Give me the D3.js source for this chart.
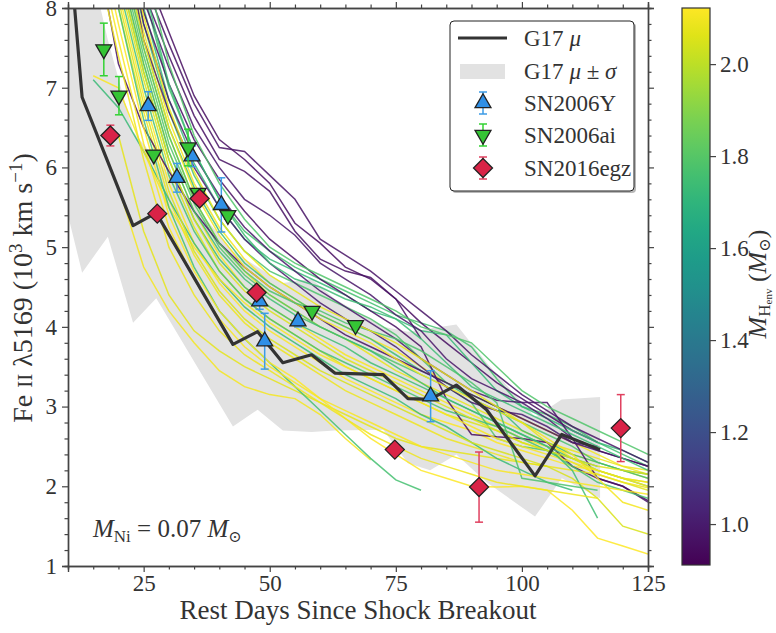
<!DOCTYPE html>
<html>
<head>
<meta charset="utf-8">
<script src="https://cdn.jsdelivr.net/npm/d3@7"></script>
<style>
  body { margin: 0; background: #fff; }
  svg text { font-family: "Liberation Serif", "DejaVu Serif", serif; fill: #333; }
</style>
</head>
<body>
<svg id="chart" width="776" height="633"></svg>
<script>
const _ = null;

// model grid (rest days)
const modelDays = [10, 15, 20, 25, 30, 35, 40, 45, 50, 55, 60, 65, 70, 75, 80, 85, 90, 95, 100, 105, 110, 115, 120, 125];

// H envelope mass of each model (Msun)
const modelMass = [2.10, 1.76, 0.95, 2.08, 1.72, 0.97, 2.11, 1.78, 0.96, 2.06, 1.74, 0.98,
                   2.12, 1.80, 0.95, 2.09, 1.75, 0.99, 2.10, 1.77, 0.96, 2.07, 1.73, 1.00,
                   2.11, 1.76, 2.12, 1.79, 2.05, 1.74, 2.10, 1.78, 2.08, 1.75, 2.11, 2.09, 2.06];

// Fe II velocities (10^3 km/s) on modelDays
const modelVel = [
  [_,_,9.0,7.7,6.6,5.8,5.25,4.85,4.55,4.35,4.15,4.0,3.85,3.7,3.5,3.3,3.15,3.0,2.85,2.7,2.55,2.4,2.25,2.15],
  [_,_,9.5,8.2,7.0,6.2,5.6,5.2,4.95,4.75,4.6,4.45,4.3,4.15,4.05,3.95,3.75,3.35,3.0,2.9,2.75,2.55,2.4,2.25],
  [_,_,10.5,8.5,7.7,6.9,6.35,6.1,5.8,5.3,5.05,4.75,4.6,4.35,4.05,3.8,3.55,3.3,3.1,2.9,2.7,2.55,_,_],
  [_,_,8.8,7.5,6.4,5.6,5.05,4.7,4.4,4.2,4.0,3.85,3.65,3.45,3.3,3.15,3.0,2.85,2.7,2.55,2.45,2.35,2.25,2.2],
  [_,_,9.3,8.0,6.85,6.05,5.5,5.1,4.85,4.7,4.55,4.4,4.2,4.1,3.95,3.9,3.55,3.2,3.0,2.85,2.7,2.55,2.45,2.3],
  [_,_,10.3,8.35,7.55,6.8,6.25,6.2,5.9,5.6,5.1,4.9,4.7,4.45,4.2,3.95,3.65,3.4,3.15,2.95,2.75,2.6,2.45,2.3],
  [_,_,8.6,7.3,6.2,5.45,4.9,4.5,4.25,4.05,3.85,3.65,3.5,3.35,3.2,3.05,2.9,2.75,2.6,2.5,2.4,2.3,2.2,2.1],
  [_,_,9.1,7.8,6.7,5.9,5.35,4.95,4.7,4.55,4.4,4.25,4.1,3.9,3.6,3.3,3.1,2.95,2.8,2.65,2.5,2.3,2.2,2.15],
  [_,_,10.1,8.2,7.4,6.65,6.1,5.95,5.7,5.2,4.85,4.7,4.62,4.35,3.85,_,_,_,_,_,_,_,_,_],
  [_,_,8.4,7.1,6.0,5.25,4.7,4.35,4.1,3.9,3.7,3.5,3.35,3.2,3.05,2.9,2.8,2.7,2.55,2.45,2.3,2.15,2.05,1.95],
  [_,_,8.9,7.6,6.5,5.75,5.2,4.8,4.55,4.35,4.15,4.0,3.85,3.65,3.45,3.3,3.15,3.0,2.7,2.55,2.4,2.3,2.2,2.1],
  [_,_,9.9,8.1,7.25,6.5,6.0,5.6,5.4,5.15,4.8,4.6,4.4,4.15,3.95,3.6,3.35,3.2,3.05,3.05,2.6,2.1,2.0,1.8],
  [_,_,8.2,6.9,5.8,5.05,4.55,4.2,3.95,3.75,3.55,3.35,3.2,3.05,2.9,2.8,2.7,2.55,2.45,2.35,2.25,2.2,2.1,2.05],
  [_,_,8.7,7.4,6.3,5.55,5.0,4.65,4.4,4.2,4.0,3.85,3.7,3.55,3.4,3.25,3.05,2.6,2.5,2.45,2.35,2.2,2.1,2.0],
  [_,_,9.7,7.95,7.05,6.35,5.85,5.45,5.1,4.85,4.6,4.4,4.2,4.0,3.75,3.1,2.65,2.62,2.6,2.55,2.25,2.1,2.0,1.82],
  [_,_,8.0,6.7,5.6,4.9,4.4,4.05,3.8,3.6,3.4,3.2,3.05,2.9,2.75,2.6,2.5,2.4,2.3,2.25,2.2,2.15,2.05,1.98],
  [_,_,8.5,7.2,6.1,5.35,4.85,4.5,4.25,4.05,3.9,3.75,3.55,3.4,3.25,3.1,2.95,2.8,2.65,2.5,2.35,2.25,_,_],
  [_,_,9.5,7.8,6.85,6.15,5.65,5.25,4.95,4.7,4.45,4.25,4.05,3.85,3.6,3.4,3.2,3.08,3.05,2.85,2.6,2.45,2.35,2.25],
  [_,_,5.75,4.75,4.2,3.8,3.45,3.25,3.15,3.1,2.9,2.6,2.33,_,_,_,_,_,_,_,_,_,_,_],
  [_,_,8.3,7.0,5.9,5.2,4.7,4.35,4.1,3.9,3.7,3.55,3.4,3.25,3.1,2.95,2.85,2.75,2.6,2.45,2.25,2.05,1.95,1.85],
  [_,9.0,7.3,6.5,5.95,5.45,5.05,4.75,4.5,4.3,4.1,3.9,3.75,3.6,3.45,3.3,3.15,3.0,2.85,2.7,2.55,2.45,2.35,2.25],
  [_,_,6.4,5.2,4.4,3.95,3.7,3.5,3.35,3.2,3.05,2.9,2.75,2.6,2.5,2.45,2.4,2.35,2.3,2.25,_,_,_,_],
  [_,7.1,6.75,6.2,5.6,5.05,4.6,4.25,4.0,3.8,3.6,3.4,3.25,3.1,2.9,2.75,2.55,2.35,2.2,2.05,1.95,_,_,_],
  [_,_,9.3,7.6,6.7,6.0,5.5,5.1,4.8,4.55,4.3,4.1,3.95,3.75,3.5,3.25,3.05,2.95,2.9,2.75,2.55,2.5,_,_],
  [_,7.15,7.0,6.2,5.5,5.0,4.6,4.3,4.05,3.85,3.65,3.5,3.35,3.2,3.05,2.9,2.75,2.6,2.5,2.4,2.3,2.2,2.1,2.0],
  [_,_,8.0,6.6,5.5,4.75,4.2,3.85,3.55,3.25,2.95,2.65,2.35,2.08,1.95,_,_,_,_,_,_,_,_,_],
  [_,9.2,7.8,6.5,5.4,4.7,4.2,3.85,3.55,3.35,3.1,2.85,2.6,2.4,2.2,2.1,2.0,1.99,2.0,1.95,1.7,1.35,1.25,1.15],
  [_,_,_,8.6,7.3,6.4,5.8,5.35,5.0,4.8,4.65,4.5,4.35,4.2,4.0,3.9,3.8,3.5,3.2,3.0,2.85,2.7,2.55,2.4],
  [_,_,8.1,6.8,5.7,4.95,4.45,4.1,3.85,3.65,3.45,3.3,3.15,3.0,2.85,2.7,2.55,2.45,2.35,2.25,2.1,1.85,1.5,1.4],
  [_,_,_,8.3,7.05,6.2,5.6,5.15,4.8,4.6,4.5,4.35,4.25,4.1,3.85,3.55,3.25,3.1,2.95,2.8,2.65,2.5,2.35,2.2],
  [_,_,8.9,7.6,6.5,5.7,5.15,4.75,4.5,4.3,4.1,3.95,3.8,3.6,3.4,3.25,3.1,2.95,2.8,2.6,2.4,2.1,1.8,1.7],
  [_,_,8.8,7.5,6.4,5.6,5.05,4.7,4.45,4.3,4.2,4.05,3.95,3.85,3.7,3.5,3.3,3.05,2.1,2.05,2.0,1.95,_,_],
  [_,_,9.2,7.9,6.75,5.95,5.35,4.95,4.65,4.45,4.25,4.1,3.95,3.8,3.6,3.4,3.2,3.0,2.8,2.55,2.35,2.2,2.1,2.05],
  [_,_,8.6,7.3,6.2,5.45,4.95,4.6,4.35,4.15,4.0,3.85,3.7,3.5,3.3,3.1,2.95,2.8,2.65,2.5,2.2,1.6,_,_],
  [_,9.0,7.6,6.3,5.25,4.6,4.1,3.75,3.5,3.3,3.1,2.95,2.8,2.65,2.5,2.4,2.3,2.2,2.15,2.1,2.05,2.0,1.95,1.9],
  [_,8.8,7.4,6.1,5.0,4.4,3.95,3.65,3.45,3.25,3.05,2.85,2.65,2.5,2.35,2.25,2.15,2.05,2.0,1.95,1.9,1.85,_,_],
  [_,_,8.5,7.2,6.1,5.35,4.8,4.45,4.2,4.0,3.8,3.6,3.45,3.3,3.15,3.0,2.85,2.7,2.55,2.45,2.35,2.25,2.2,2.15]
];

// G17 mean and +/- sigma envelope
const g17Days  = [10, 12.8, 17.9, 22.9, 27.5, 42.7, 47.6, 52.6, 58.3, 62.9, 72.5, 77.4, 81.8, 87, 93, 102.6, 107.9, 115.5];
const g17Mean  = [9.0, 6.88, 6.07, 5.27, 5.43, 3.78, 3.94, 3.55, 3.65, 3.42, 3.40, 3.10, 3.09, 3.27, 2.96, 2.13, 2.65, 2.46];
const g17Upper = [10.5, 9.0, 7.6, 6.45, 6.1, 4.95, 4.75, 4.55, 4.6, 4.35, 4.0, 3.94, 3.98, 4.03, 3.55, 2.87, 3.09, 3.12];
const g17Lower = [5.4, 4.68, 5.13, 4.05, 4.36, 2.75, 2.96, 2.7, 2.68, 2.70, 2.71, 2.29, 2.2, 2.4, 2.05, 1.62, 2.1, 1.85];

// observed SNe
const sn06yDays = [25.9, 31.6, 34.6, 40.4, 48.0, 49.0, 55.6, 81.9];
const sn06yVel  = [6.77, 5.87, 6.14, 5.53, 4.32, 3.82, 4.07, 3.13];
const sn06yErr  = [0.18, 0.18, 0.13, 0.34, 0.10, 0.35, 0.07, 0.32];

const sn06aiDays = [17.1, 20.1, 27.0, 33.8, 35.8, 41.7, 58.4, 67.0];
const sn06aiVel  = [7.48, 6.90, 6.16, 6.25, 5.68, 5.40, 4.20, 4.02];
const sn06aiErr  = [0.33, 0.24, 0.05, 0.23, 0.05, 0.05, 0.05, 0.05];

const sn16Days = [18.4, 27.7, 36.1, 47.4, 74.8, 91.5, 119.6];
const sn16Vel  = [6.40, 5.42, 5.61, 4.43, 2.46, 1.99, 2.73];
const sn16Err  = [0.13, 0.06, 0.05, 0.06, 0.05, 0.44, 0.42];

const xTicks = [25, 50, 75, 100, 125];
const yTicks = [1, 2, 3, 4, 5, 6, 7, 8];
const cbTicks = [1.0, 1.2, 1.4, 1.6, 1.8, 2.0];
const massDomain = [0.911, 2.122];

const L = 68, R = 648, T = 8, B = 566;
const svg = d3.select('#chart');

const x = d3.scaleLinear().domain([10, 125]).range([L, R]);
const y = d3.scaleLinear().domain([1, 8]).range([B, T]);
const color = d3.scaleSequential(d3.interpolateViridis).domain(massDomain);

svg.append('defs').append('clipPath').attr('id', 'plotclip')
  .append('rect').attr('x', L).attr('y', T).attr('width', R - L).attr('height', B - T);

const plot = svg.append('g').attr('clip-path', 'url(#plotclip)');

// sigma band
const band = d3.area()
  .x((d, i) => x(g17Days[i]))
  .y0((d, i) => y(g17Lower[i]))
  .y1((d, i) => y(g17Upper[i]));
plot.append('path').datum(g17Days).attr('d', band).attr('fill', '#e2e2e2');

// model curves
const line = d3.line().defined(d => d[1] != null).x(d => x(d[0])).y(d => y(d[1]));
modelVel.forEach((row, i) => {
  plot.append('path')
    .datum(modelDays.map((d, j) => [d, row[j]]))
    .attr('d', line)
    .attr('fill', 'none')
    .attr('stroke', color(modelMass[i]))
    .attr('stroke-width', 1.5)
    .attr('stroke-opacity', 0.85);
});

// mean
plot.append('path')
  .datum(g17Days.map((d, i) => [d, g17Mean[i]]))
  .attr('d', d3.line().x(d => x(d[0])).y(d => y(d[1])))
  .attr('fill', 'none').attr('stroke', '#333').attr('stroke-width', 3.2)
  .attr('stroke-linejoin', 'round');

// markers
const triUp = d3.symbol().type(d3.symbolTriangle).size(110)();
const diamond = 'M0,-9.5L9.5,0L0,9.5L-9.5,0Z';

function drawSeries(days, vel, err, fill, errColor, path, rot) {
  const gs = svg.append('g');
  days.forEach((d, i) => {
    const cx = x(d), y0 = y(vel[i] - err[i]), y1 = y(vel[i] + err[i]);
    gs.append('line').attr('x1', cx).attr('x2', cx).attr('y1', y0).attr('y2', y1)
      .attr('stroke', errColor).attr('stroke-width', 1.5);
    [y0, y1].forEach(yy => gs.append('line').attr('x1', cx - 4).attr('x2', cx + 4)
      .attr('y1', yy).attr('y2', yy).attr('stroke', errColor).attr('stroke-width', 1.5));
  });
  days.forEach((d, i) => {
    gs.append('path').attr('d', path)
      .attr('transform', `translate(${x(d)},${y(vel[i])}) rotate(${rot})`)
      .attr('fill', fill).attr('stroke', '#222').attr('stroke-width', 1.3)
      .attr('stroke-linejoin', 'miter');
  });
}
drawSeries(sn06yDays, sn06yVel, sn06yErr, '#2f8fe6', '#3d9be6', triUp, 0);
drawSeries(sn06aiDays, sn06aiVel, sn06aiErr, '#35c435', '#33d233', triUp, 180);
drawSeries(sn16Days, sn16Vel, sn16Err, '#d92347', '#e0405f', diamond, 0);

// axes
function styleAxis(g) {
  g.selectAll('.domain').attr('stroke', '#444').attr('stroke-width', 1.4);
  g.selectAll('.tick line').attr('stroke', '#444').attr('stroke-width', 1.2);
  g.selectAll('.tick text').style('font-size', '23px').attr('fill', '#333');
}
const xMinor = d3.range(10, 126, 5).filter(v => !xTicks.includes(v));
const yMinor = d3.range(1, 8.01, 0.2).map(v => +v.toFixed(1)).filter(v => !yTicks.includes(v));

svg.append('g').attr('transform', `translate(0,${B})`)
  .call(d3.axisBottom(x).tickValues(xTicks).tickSize(6).tickPadding(3).tickFormat(d3.format('d'))).call(styleAxis);
svg.append('g').attr('transform', `translate(0,${B})`)
  .call(d3.axisBottom(x).tickValues(xMinor).tickSize(3.5).tickFormat('')).call(styleAxis);
svg.append('g').attr('transform', `translate(0,${T})`)
  .call(d3.axisTop(x).tickValues(xTicks).tickSize(6).tickFormat('')).call(styleAxis);
svg.append('g').attr('transform', `translate(0,${T})`)
  .call(d3.axisTop(x).tickValues(xMinor).tickSize(3.5).tickFormat('')).call(styleAxis);

svg.append('g').attr('transform', `translate(${L},0)`)
  .call(d3.axisLeft(y).tickValues(yTicks).tickSize(6).tickPadding(5).tickFormat(d3.format('d'))).call(styleAxis);
svg.append('g').attr('transform', `translate(${L},0)`)
  .call(d3.axisLeft(y).tickValues(yMinor).tickSize(3.5).tickFormat('')).call(styleAxis);
svg.append('g').attr('transform', `translate(${R},0)`)
  .call(d3.axisRight(y).tickValues(yTicks).tickSize(6).tickFormat('')).call(styleAxis);
svg.append('g').attr('transform', `translate(${R},0)`)
  .call(d3.axisRight(y).tickValues(yMinor).tickSize(3.5).tickFormat('')).call(styleAxis);

// axis labels
svg.append('text').attr('x', 358).attr('y', 619).attr('text-anchor', 'middle')
  .style('font-size', '27px').text('Rest Days Since Shock Breakout');

const yl = svg.append('text').attr('transform', 'translate(32,288) rotate(-90)')
  .attr('text-anchor', 'middle').style('font-size', '28px');
yl.append('tspan').text('Fe ');
yl.append('tspan').style('font-size', '21px').text('II');
yl.append('tspan').text(' λ5169 (10');
yl.append('tspan').attr('dy', -10).style('font-size', '19px').text('3');
yl.append('tspan').attr('dy', 10).text(' km s');
yl.append('tspan').attr('dy', -10).style('font-size', '19px').text('−1');
yl.append('tspan').attr('dy', 10).text(')');

// annotation
const ann = svg.append('text').attr('x', 93).attr('y', 537).style('font-size', '25px');
ann.append('tspan').style('font-style', 'italic').text('M');
ann.append('tspan').attr('dy', 5).style('font-size', '17px').text('Ni');
ann.append('tspan').attr('dy', -5).text(' = 0.07 ');
ann.append('tspan').style('font-style', 'italic').text('M');
ann.append('tspan').attr('dy', 5).style('font-size', '16px').text('⊙');

// legend
const lg = svg.append('g');
lg.append('rect').attr('x', 452).attr('y', 23).attr('width', 184).attr('height', 170)
  .attr('rx', 4).attr('fill', '#888').attr('opacity', 0.6);
lg.append('rect').attr('x', 450).attr('y', 21).attr('width', 184).attr('height', 170)
  .attr('rx', 4).attr('fill', '#fff').attr('stroke', '#222').attr('stroke-width', 1);
lg.append('line').attr('x1', 458).attr('x2', 507).attr('y1', 38).attr('y2', 38)
  .attr('stroke', '#333').attr('stroke-width', 3.2);
lg.append('rect').attr('x', 460).attr('y', 64).attr('width', 45).attr('height', 15).attr('fill', '#e2e2e2');
const legMarks = [
  { yy: 103, fill: '#2f8fe6', ec: '#3d9be6', path: triUp, rot: 0 },
  { yy: 135, fill: '#35c435', ec: '#33d233', path: triUp, rot: 180 },
  { yy: 168, fill: '#d92347', ec: '#e0405f', path: diamond, rot: 0 }
];
legMarks.forEach(m => {
  lg.append('line').attr('x1', 483).attr('x2', 483).attr('y1', m.yy - 11).attr('y2', m.yy + 11)
    .attr('stroke', m.ec).attr('stroke-width', 1.5);
  [m.yy - 11, m.yy + 11].forEach(yy => lg.append('line').attr('x1', 479).attr('x2', 487)
    .attr('y1', yy).attr('y2', yy).attr('stroke', m.ec).attr('stroke-width', 1.5));
  lg.append('path').attr('d', m.path).attr('transform', `translate(483,${m.yy}) rotate(${m.rot})`)
    .attr('fill', m.fill).attr('stroke', '#222').attr('stroke-width', 1.3);
});
const lt = (yy) => lg.append('text').attr('x', 524).attr('y', yy).style('font-size', '23px');
let t = lt(46); t.append('tspan').text('G17 '); t.append('tspan').style('font-style', 'italic').text('μ');
t = lt(79); t.append('tspan').text('G17 '); t.append('tspan').style('font-style', 'italic').text('μ');
t.append('tspan').text(' ± '); t.append('tspan').style('font-style', 'italic').text('σ');
lt(111).text('SN2006Y');
lt(143).text('SN2006ai');
lt(176).text('SN2016egz');

// colorbar
const cbX = 682, cbW = 28, cbTop = 8, cbBot = 565;
const cy = d3.scaleLinear().domain(massDomain).range([cbBot, cbTop]);
const grad = svg.select('defs').append('linearGradient').attr('id', 'cbgrad')
  .attr('x1', 0).attr('y1', 1).attr('x2', 0).attr('y2', 0);
d3.range(0, 1.0001, 0.05).forEach(s => grad.append('stop')
  .attr('offset', s).attr('stop-color', d3.interpolateViridis(s)));
svg.append('rect').attr('x', cbX).attr('y', cbTop).attr('width', cbW).attr('height', cbBot - cbTop)
  .attr('fill', 'url(#cbgrad)').attr('stroke', '#333').attr('stroke-width', 1.2);
svg.append('g').attr('transform', `translate(${cbX + cbW},0)`)
  .call(d3.axisRight(cy).tickValues(cbTicks).tickSize(6).tickPadding(4).tickFormat(d3.format('.1f')))
  .call(styleAxis).call(g => g.select('.domain').remove());

const cl = svg.append('text').attr('transform', 'translate(766,284) rotate(-90)')
  .attr('text-anchor', 'middle').style('font-size', '26px');
cl.append('tspan').style('font-style', 'italic').text('M');
cl.append('tspan').attr('dy', 4).style('font-size', '17px').text('H');
cl.append('tspan').attr('dy', 2).style('font-size', '11px').text('env');
cl.append('tspan').attr('dy', -6).text(' (');
cl.append('tspan').style('font-style', 'italic').text('M');
cl.append('tspan').attr('dy', 4).style('font-size', '16px').text('⊙');
cl.append('tspan').attr('dy', -4).text(')');
</script>
</body>
</html>
